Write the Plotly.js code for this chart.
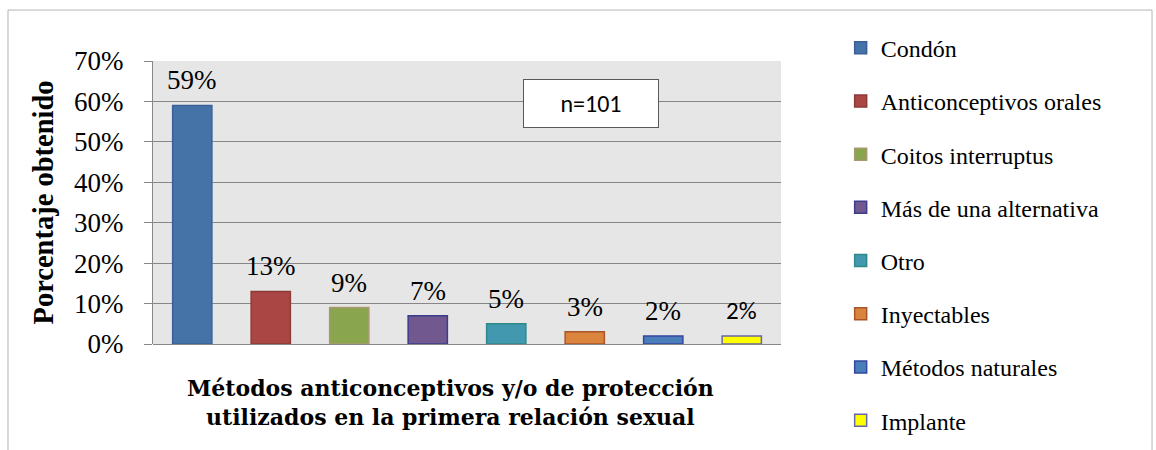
<!DOCTYPE html>
<html>
<head>
<meta charset="utf-8">
<script src="https://cdn.plot.ly/plotly-3.0.1.min.js"></script>
<style>
  body { margin: 0; background: #fff; }
  #chart { width: 1156px; height: 450px; }
</style>
</head>
<body>
<div id="chart"></div>
<script>
// data
const metodos = ["Condón", "Anticonceptivos orales", "Coitos interruptus", "Más de una alternativa",
                 "Otro", "Inyectables", "Métodos naturales", "Implante"];
const porcentajes = [59, 13, 9, 7, 5, 3, 2, 2];
const rellenos = ["#4572A7", "#AA4643", "#89A54E", "#71588F", "#4198AF", "#DB843D", "#4A7EBB", "#FFFF00"];
const bordes = ["#3A5F9A", "#8C3A38", "#A89A6E", "#3C3C8C", "#2E8A8A", "#A8552A", "#3546A0", "#6666AA"];
const tamanoMuestra = "n=101";

const SERIF = "'Times New Roman', 'Liberation Serif', serif";
const SANS = "Calibri, Carlito, 'Liberation Sans', sans-serif";

// one trace per method so every bar gets its own legend entry
const data = metodos.map((m, i) => ({
  type: "bar",
  name: m,
  legendgroup: m,
  x: [m],
  y: [porcentajes[i]],
  marker: { color: rellenos[i], line: { color: bordes[i], width: 1.5 } },
  hoverinfo: "skip",
}));

// percentage labels above the bars
const etiquetas = metodos.map((m, i) => ({
  x: m,
  y: porcentajes[i],
  xref: "x",
  yref: "y",
  text: porcentajes[i] + "%",
  showarrow: false,
  yanchor: "bottom",
  yshift: 8,
  font: i === metodos.length - 1
    ? { family: SANS, size: 25, color: "#000" }
    : { family: SERIF, size: 27, color: "#000" },
}));

const layout = {
  width: 1156,
  height: 450,
  margin: { l: 153, r: 375, t: 61, b: 106, pad: 0 },
  paper_bgcolor: "#ffffff",
  plot_bgcolor: "#E6E6E6",
  barmode: "overlay",
  bargap: 0.5,
  showlegend: true,
  legend: {
    x: 1.095,
    xanchor: "left",
    y: 1.125,
    yanchor: "top",
    traceorder: "grouped",
    tracegroupgap: 19,
    maxheight: 450,
    font: { family: SERIF, size: 24, color: "#000" },
    bgcolor: "rgba(0,0,0,0)",
  },
  xaxis: {
    type: "category",
    showticklabels: false,
    showgrid: false,
    zeroline: false,
    showline: false,
    ticks: "",
    fixedrange: true,
  },
  yaxis: {
    range: [0, 70],
    dtick: 10,
    ticksuffix: "%",
    ticks: "outside",
    ticklen: 8,
    tickcolor: "#878787",
    ticklabelstandoff: 15,
    showline: true,
    linecolor: "#878787",
    linewidth: 1,
    gridcolor: "#878787",
    gridwidth: 1,
    zeroline: true,
    zerolinecolor: "#878787",
    tickfont: { family: SERIF, size: 27, color: "#000" },
    title: {
      text: "Porcentaje obtenido",
      standoff: 12,
      font: { family: SERIF, size: 28.5, color: "#000", weight: "bold" },
    },
    fixedrange: true,
  },
  annotations: etiquetas.concat([
    {
      xref: "paper", yref: "paper",
      x: 0.4745, y: -0.208,
      xanchor: "center", yanchor: "middle",
      text: "<b>Métodos anticonceptivos y/o de protección<br>utilizados en la primera relación sexual</b>",
      showarrow: false,
      font: { family: "'DejaVu Serif', serif", size: 22, color: "#000" },
    },
    {
      xref: "paper", yref: "paper",
      x: 0.697, y: 0.85,
      xanchor: "center", yanchor: "middle",
      text: tamanoMuestra,
      showarrow: false,
      width: 132,
      height: 45,
      bgcolor: "#ffffff",
      bordercolor: "#595959",
      borderwidth: 1,
      borderpad: 1,
      font: { family: SANS, size: 24, color: "#000" },
    },
  ]),
  shapes: [
    {
      type: "rect",
      xref: "paper", yref: "paper",
      x0: -0.2309, x1: 1.5908, y0: -0.39, y1: 1.18,
      line: { color: "#B4B4B4", width: 1 },
      fillcolor: "rgba(0,0,0,0)",
    },
  ],
};

Plotly.newPlot("chart", data, layout, { staticPlot: true, displayModeBar: false });
</script>
</body>
</html>
